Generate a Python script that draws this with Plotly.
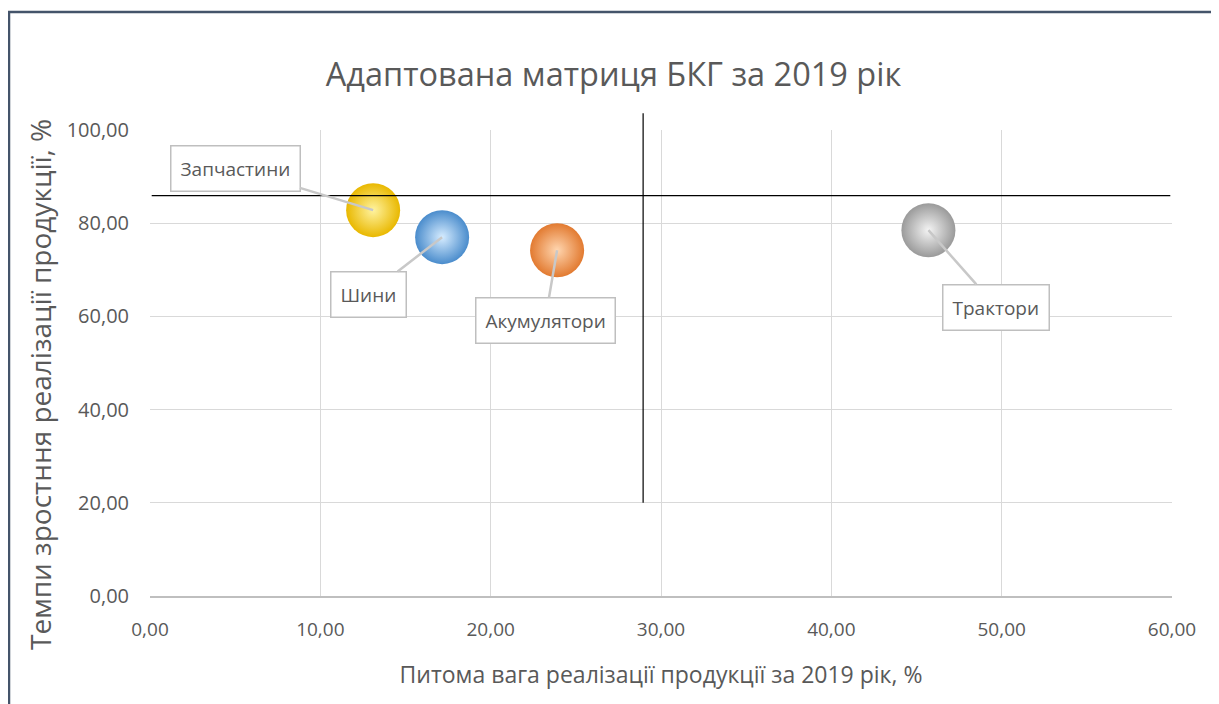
import plotly.graph_objects as go

# Data
products = ["Запчастини", "Шини", "Акумулятори", "Трактори"]
share_2019 = [13.1, 17.15, 23.9, 45.7]        # x, %
growth_rate = [82.8, 77.0, 74.2, 78.5]        # y, %
colors = ["#e9b800", "#4a8ccc", "#e27a30", "#9a9a9a"]
highlights = ["#fff3a0", "#d6ecff", "#ffd6b0", "#f4f4f4"]
label_offsets = [(-138, -42), (-74, 57), (-12, 70), (68, 77)]

# Quadrant divider lines
divider_x = 28.95
divider_x_range = [20.0, 103.6]
divider_y = 85.9
divider_y_range = [0.1, 59.9]

x_range = [0, 60]
y_range = [0, 100]
x_ticks = [0, 10, 20, 30, 40, 50, 60]
y_ticks = [0, 20, 40, 60, 80, 100]

title_text = "Адаптована матриця БКГ за 2019 рік"
x_title = "Питома вага реалізації продукції за 2019 рік, %"
y_title = "Темпи зростння реалізації продукції, %"

FONT = "Open Sans, DejaVu Sans, sans-serif"
GRAY = "#595959"

# figure geometry (page has 8px body margin)
W, H = 1211, 696
ML, MR, MT, MB = 142, 47, 122, 108
PW, PH = W - ML - MR, H - MT - MB


def px_to_paper_x(fx):
    return (fx - ML) / PW


def px_to_paper_y(fy):
    return (H - MB - fy) / PH


fig = go.Figure()
for name, x, y, c, h in zip(products, share_2019, growth_rate, colors, highlights):
    fig.add_trace(go.Scatter(
        x=[x], y=[y], mode="markers", name=name,
        marker=dict(size=54, color=c, line=dict(width=0),
                    gradient=dict(type="radial", color=h)),
        hoverinfo="skip", cliponaxis=False,
    ))

# Divider lines
fig.add_shape(type="line", xref="x", yref="paper",
              x0=divider_x, x1=divider_x,
              y0=divider_x_range[0] / y_range[1], y1=divider_x_range[1] / y_range[1],
              line=dict(color="black", width=1.2))
fig.add_shape(type="line", xref="x", yref="y",
              x0=divider_y_range[0], x1=divider_y_range[1], y0=divider_y, y1=divider_y,
              line=dict(color="black", width=1.2))

# Labels with callout lines
for name, x, y, (ax, ay) in zip(products, share_2019, growth_rate, label_offsets):
    fig.add_annotation(x=x, y=y, text=name, showarrow=True, ax=ax, ay=ay,
                       arrowhead=0, arrowwidth=2.5, arrowcolor="#c8c8c8",
                       bgcolor="white", bordercolor="#bfbfbf", borderwidth=1.5,
                       borderpad=9, font=dict(family=FONT, size=19, color=GRAY))

# Y axis title (placed like the original, slightly below plot centre)
fig.add_annotation(xref="paper", yref="paper", x=px_to_paper_x(32), y=px_to_paper_y(377),
                   text=y_title, textangle=-90, showarrow=False,
                   xanchor="center", yanchor="middle",
                   font=dict(family=FONT, size=28, color=GRAY))

# Outer frame
fig.add_shape(type="rect", xref="paper", yref="paper",
              x0=px_to_paper_x(1), x1=px_to_paper_x(1220),
              y0=px_to_paper_y(730), y1=px_to_paper_y(4),
              line=dict(color="#44546a", width=2.5), fillcolor="rgba(0,0,0,0)", layer="below")

fig.update_layout(
    width=W, height=H,
    margin=dict(l=ML, r=MR, t=MT, b=MB),
    paper_bgcolor="white", plot_bgcolor="white",
    showlegend=False,
    separators=", ",
    title=dict(text=title_text, x=0.5, xanchor="center", y=1 - 67 / H, yanchor="middle",
               font=dict(family=FONT, size=32.5, color=GRAY)),
    xaxis=dict(range=x_range, tickvals=x_ticks, tickformat=".2f",
               showgrid=True, gridcolor="#d9d9d9", gridwidth=1.2,
               zeroline=False, showline=True, linecolor="#bfbfbf", linewidth=1.5,
               ticks="", ticklabelstandoff=15,
               tickfont=dict(family=FONT, size=19, color=GRAY),
               title=dict(text=x_title, standoff=26,
                          font=dict(family=FONT, size=23, color=GRAY))),
    yaxis=dict(range=y_range, tickvals=y_ticks, tickformat=".2f",
               showgrid=True, gridcolor="#d9d9d9", gridwidth=1.2,
               zeroline=False, showline=False, ticks="", ticklabelstandoff=20,
               tickfont=dict(family=FONT, size=20, color=GRAY)),
)

fig.write_html("out.html")
